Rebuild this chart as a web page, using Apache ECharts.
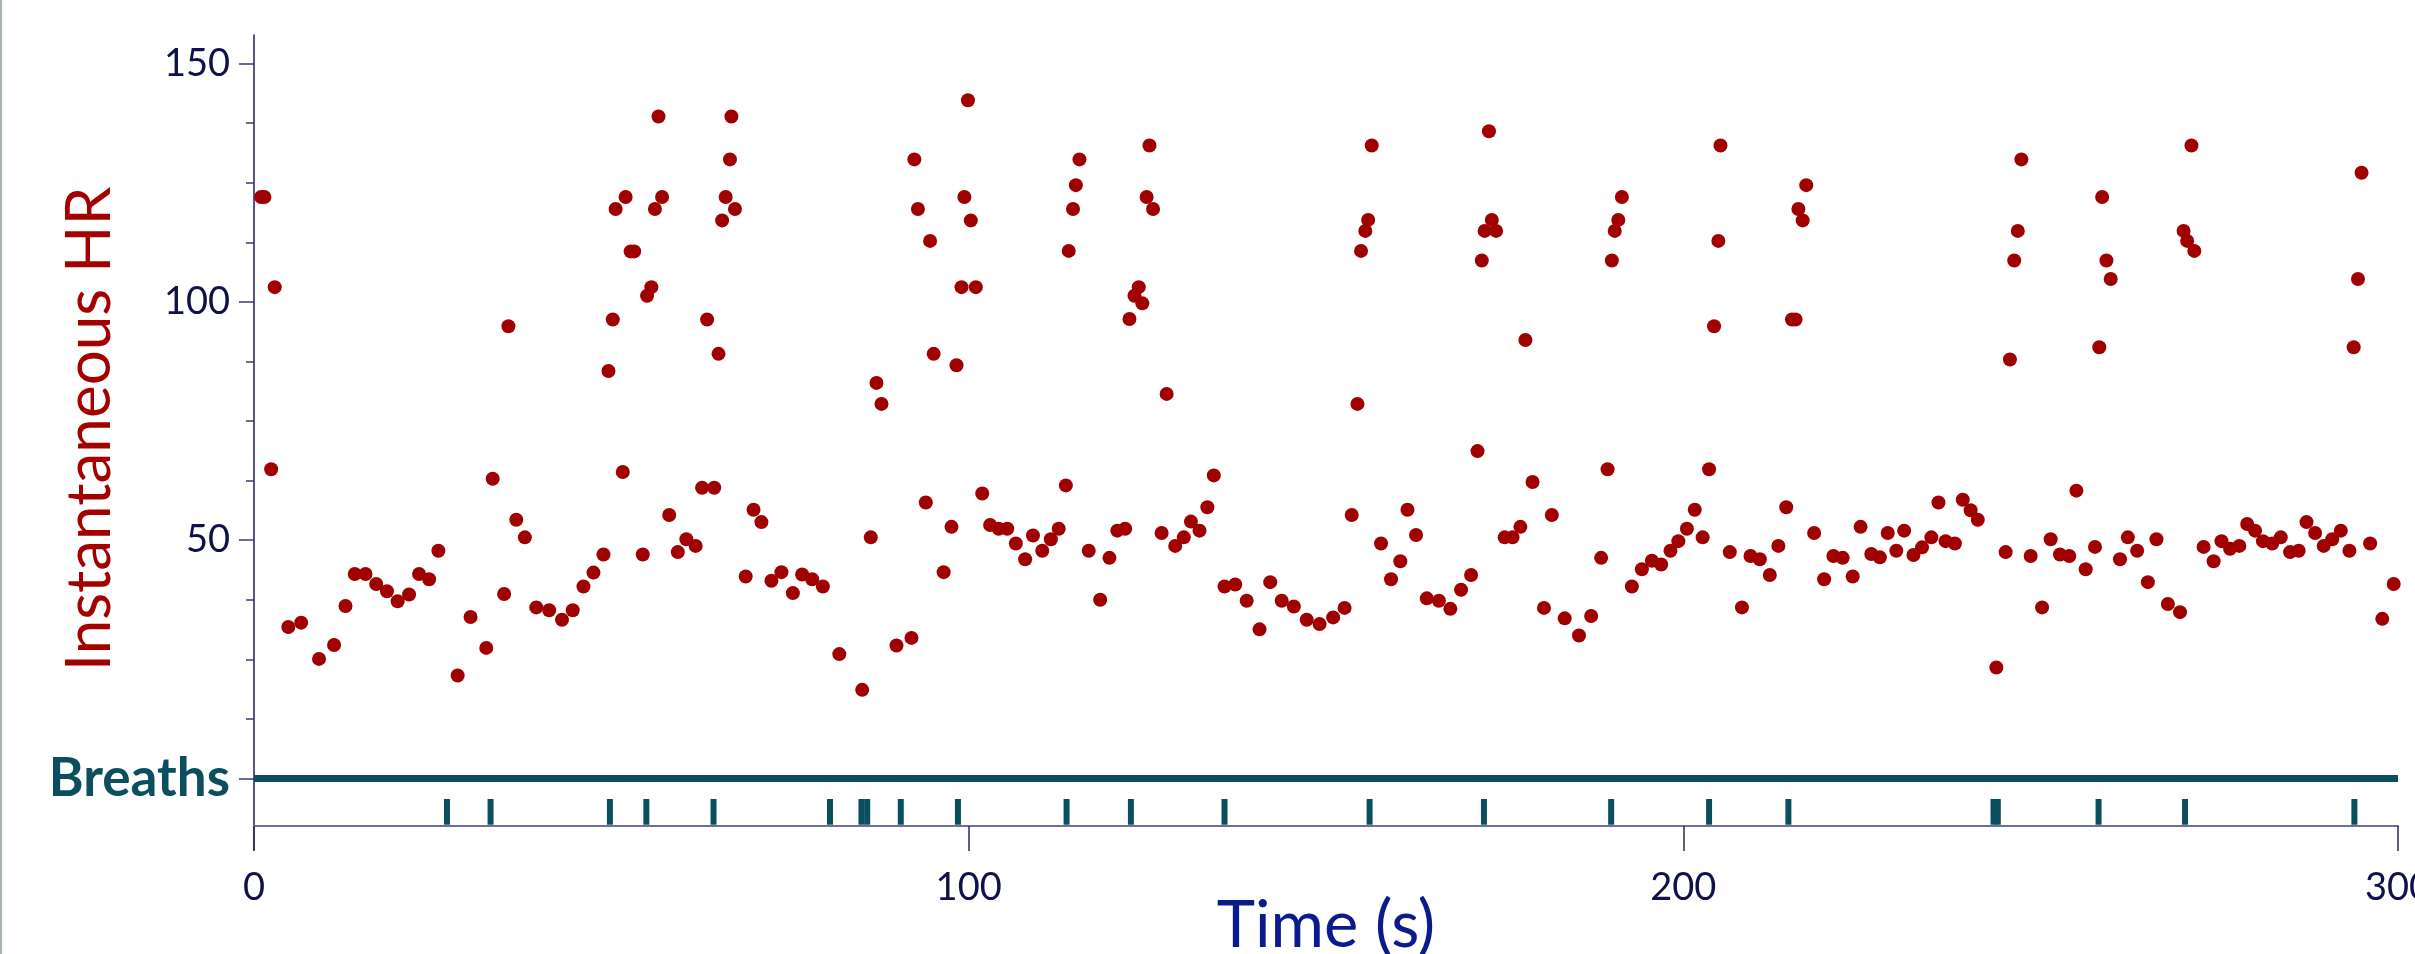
<!DOCTYPE html>
<html>
<head>
<meta charset="utf-8">
<title>Instantaneous HR and breaths</title>
<script src="https://cdn.jsdelivr.net/npm/echarts@6.0.0/dist/echarts.min.js"></script>
<style>
    html, body { margin: 0; padding: 0; background: #fff; }
    #chart { width: 2415px; height: 954px; }
    #edge { position: absolute; left: 0; top: 0; width: 2px; height: 954px; background: #a8b4b4; }
</style>
</head>
<body>
<div id="chart"></div>
<div id="edge"></div>
<script>
// instantaneous heart rate, [time (s), HR]
var hrPoints = [
    [1.0, 122.0], [1.45, 122.0], [2.4, 64.9], [2.9, 103.1], [4.8, 31.8], [6.6, 32.7], [9.1, 25.1], [11.2, 28.0],
    [12.8, 36.2], [14.1, 42.9], [15.6, 42.9], [17.1, 40.8], [18.6, 39.3], [20.1, 37.2], [21.7, 38.6], [23.1, 42.9],
    [24.5, 41.8], [25.8, 47.8], [28.5, 21.6], [30.3, 33.9], [32.5, 27.4], [33.4, 62.9], [35.0, 38.7], [35.6, 94.9],
    [36.7, 54.3], [37.9, 50.6], [39.5, 35.9], [41.3, 35.3], [43.1, 33.3], [44.6, 35.3], [46.1, 40.3], [47.5, 43.2],
    [48.9, 47.0], [49.6, 85.5], [50.2, 96.3], [50.6, 119.5], [51.6, 64.3], [52.0, 122.0], [52.7, 110.6], [53.2, 110.6],
    [54.4, 47.0], [55.0, 101.3], [55.6, 103.1], [56.1, 119.5], [56.6, 138.9], [57.1, 122.0], [58.1, 55.3], [59.3, 47.5],
    [60.5, 50.2], [61.8, 48.8], [62.7, 61.0], [63.4, 96.3], [64.4, 61.0], [65.0, 89.1], [65.5, 117.1], [66.0, 122.0],
    [66.6, 129.9], [66.8, 138.9], [67.3, 119.5], [68.8, 42.4], [69.9, 56.4], [71.0, 53.8], [72.4, 41.5], [73.8, 43.3],
    [75.4, 38.9], [76.7, 42.8], [78.1, 41.8], [79.6, 40.3], [81.9, 26.1], [85.1, 18.6], [86.3, 50.6], [87.1, 83.0],
    [87.8, 78.6], [89.9, 27.9], [92.0, 29.5], [92.4, 129.9], [92.9, 119.5], [94.0, 57.9], [94.6, 112.8], [95.1, 89.1],
    [96.5, 43.3], [97.6, 52.8], [98.3, 86.7], [99.0, 103.1], [99.4, 122.0], [99.9, 142.3], [100.3, 117.1], [101.0, 103.1],
    [101.9, 59.8], [103.0, 53.2], [104.2, 52.4], [105.4, 52.4], [106.6, 49.3], [107.9, 46.0], [109.0, 51.0], [110.3, 47.8],
    [111.5, 50.2], [112.6, 52.4], [113.6, 61.5], [114.0, 110.7], [114.6, 119.5], [115.0, 124.5], [115.5, 129.9], [116.8, 47.8],
    [118.4, 37.5], [119.7, 46.3], [120.8, 52.0], [121.9, 52.4], [122.5, 96.4], [123.2, 101.3], [123.8, 103.1], [124.3, 99.7],
    [124.9, 122.0], [125.3, 132.8], [125.8, 119.5], [127.0, 51.5], [127.7, 80.7], [128.9, 48.8], [130.1, 50.6], [131.1, 53.9],
    [132.3, 52.0], [133.4, 56.9], [134.3, 63.6], [135.8, 40.3], [137.3, 40.7], [138.9, 37.3], [140.7, 31.3], [142.2, 41.2],
    [143.8, 37.3], [145.5, 36.1], [147.3, 33.3], [149.1, 32.4], [151.0, 33.8], [152.6, 35.8], [153.6, 55.3], [154.4, 78.6],
    [154.9, 110.7], [155.5, 114.9], [155.9, 117.2], [156.4, 132.8], [157.7, 49.3], [159.1, 41.8], [160.4, 45.6], [161.4, 56.4],
    [162.6, 51.1], [164.1, 37.8], [165.8, 37.3], [167.4, 35.6], [168.9, 39.6], [170.3, 42.7], [171.2, 68.7], [171.8, 108.7],
    [172.2, 114.9], [172.8, 135.8], [173.2, 117.2], [173.8, 114.9], [175.0, 50.6], [176.1, 50.6], [177.2, 52.8], [177.9, 92.0],
    [178.9, 62.2], [180.5, 35.8], [181.6, 55.3], [183.4, 33.6], [185.4, 30.0], [187.1, 34.1], [188.5, 46.3], [189.4, 64.9],
    [190.0, 108.7], [190.4, 114.9], [190.9, 117.2], [191.4, 122.0], [192.8, 40.3], [194.2, 43.9], [195.6, 45.7], [196.9, 44.9],
    [198.2, 47.8], [199.3, 49.8], [200.5, 52.4], [201.6, 56.4], [202.7, 50.6], [203.6, 64.9], [204.3, 94.9], [204.9, 112.8],
    [205.2, 132.8], [206.5, 47.5], [208.2, 35.9], [209.4, 46.7], [210.7, 46.0], [212.1, 42.7], [213.3, 48.8], [214.4, 56.9],
    [215.2, 96.3], [215.7, 96.3], [216.1, 119.5], [216.7, 117.1], [217.2, 124.5], [218.3, 51.5], [219.7, 41.8], [221.0, 46.7],
    [222.3, 46.3], [223.7, 42.4], [224.8, 52.8], [226.3, 47.1], [227.5, 46.4], [228.6, 51.5], [229.8, 47.8], [230.9, 52.0],
    [232.2, 46.9], [233.4, 48.5], [234.7, 50.6], [235.7, 57.9], [236.7, 49.8], [238.0, 49.3], [239.1, 58.5], [240.2, 56.3],
    [241.2, 54.3], [243.8, 23.3], [245.1, 47.5], [245.7, 87.9], [246.3, 108.7], [246.8, 114.9], [247.3, 129.9], [248.6, 46.7],
    [250.2, 35.9], [251.4, 50.2], [252.7, 47.0], [254.0, 46.7], [255.0, 60.4], [256.3, 43.9], [257.6, 48.6], [258.2, 90.5],
    [258.6, 122.0], [259.2, 108.7], [259.8, 104.8], [261.1, 46.0], [262.2, 50.6], [263.5, 47.8], [265.0, 41.2], [266.2, 50.2],
    [267.8, 36.6], [269.5, 34.9], [270.0, 114.9], [270.5, 112.8], [271.1, 132.8], [271.5, 110.7], [272.8, 48.6], [274.2, 45.6],
    [275.3, 49.8], [276.5, 48.2], [277.8, 48.8], [278.9, 53.4], [280.0, 52.0], [281.1, 49.8], [282.4, 49.3], [283.6, 50.6],
    [284.9, 47.5], [286.1, 47.8], [287.2, 53.8], [288.4, 51.5], [289.6, 48.8], [290.8, 50.2], [292.0, 52.0], [293.2, 47.8],
    [293.8, 90.5], [294.4, 104.8], [294.9, 127.1], [296.1, 49.3], [297.8, 33.5], [299.4, 40.8]
];

// breath onsets (s)
var breathTimes = [27.0, 33.1, 49.8, 54.9, 64.3, 80.6, 85.0, 85.8, 90.5, 98.5, 113.7, 122.7,
    135.8, 156.1, 172.1, 189.9, 203.6, 214.7, 243.4, 244.0, 258.1, 270.2, 293.9];

// breath baseline and the span of each breath mark, in HR units
var breathLine = [[0, 0], [300, 0]];
var breathMarkTop = -4.3;
var breathMarkBottom = -9.7;

// axes
var xRange = [0, 300];
var xStep = 100;
var yRange = [-15, 156];
var yMajorTicks = [0, 50, 100, 150];
var yMinorTicks = [12.5, 25, 37.5, 62.5, 75, 87.5, 112.5, 125, 137.5];

var teal = '#0b4f5e';
var navy = '#10104a';

var chart = echarts.init(document.getElementById('chart'));
var option = {
    animation: false,
    backgroundColor: '#fff',
    textStyle: { fontFamily: 'Lato' },
    grid: {
        left: 254,
        right: 17,
        top: 35,
        bottom: 104,
        outerBoundsMode: 'none'
    },
    xAxis: {
        type: 'value',
        min: xRange[0],
        max: xRange[1],
        interval: xStep,
        offset: -24,
        name: 'Time (s)',
        nameLocation: 'middle',
        nameGap: 68,
        nameMoveOverlap: false,
        nameTextStyle: { fontSize: 65, color: '#0b1a8c', fontFamily: 'Lato' },
        axisLine: { show: true, onZero: false, lineStyle: { color: '#6f6f9c', width: 2 } },
        axisTick: { show: true, length: 25, lineStyle: { color: '#2a2a66', width: 1.5 } },
        axisLabel: { margin: 43, fontSize: 38, color: navy, fontFamily: 'Lato' },
        splitLine: { show: false }
    },
    yAxis: [
        {
            type: 'value',
            position: 'left',
            min: yRange[0],
            max: yRange[1],
            name: 'Instantaneous HR',
            nameLocation: 'middle',
            nameGap: 133,
            nameMoveOverlap: false,
            nameTextStyle: { fontSize: 62, color: '#a50000', fontFamily: 'Lato', padding: [0, 0, 0, 27] },
            axisLine: { show: true, onZero: false, lineStyle: { color: '#1e1e60', width: 1.5 } },
            axisTick: { show: true, customValues: yMajorTicks, length: 15, lineStyle: { color: '#3a3a70', width: 1.5 } },
            axisLabel: {
                customValues: yMajorTicks,
                margin: 24,
                fontSize: 38,
                color: navy,
                fontFamily: 'Lato',
                formatter: function (v) {
                    return v === 0 ? '{br|Breaths}' : String(v);
                },
                rich: {
                    br: { fontSize: 53, fontWeight: 'bold', color: teal, fontFamily: 'Lato' }
                }
            },
            splitLine: { show: false }
        },
        {
            // minor ticks only
            type: 'value',
            position: 'left',
            min: yRange[0],
            max: yRange[1],
            axisLine: { show: false, onZero: false },
            axisTick: { show: true, customValues: yMinorTicks, length: 8, lineStyle: { color: '#3a3a70', width: 1.5 } },
            axisLabel: { show: false },
            splitLine: { show: false }
        }
    ],
    series: [
        {
            name: 'Breaths',
            type: 'line',
            data: breathLine,
            showSymbol: false,
            symbol: 'none',
            lineStyle: { color: teal, width: 7, cap: 'butt' },
            z: 2
        },
        {
            name: 'Breath marks',
            type: 'custom',
            data: breathTimes.map(function (t) { return [t]; }),
            renderItem: function (params, api) {
                var top = api.coord([api.value(0), breathMarkTop]);
                var bottom = api.coord([api.value(0), breathMarkBottom]);
                return {
                    type: 'rect',
                    shape: { x: top[0] - 3, y: top[1], width: 6, height: bottom[1] - top[1] },
                    style: { fill: teal }
                };
            },
            z: 2
        },
        {
            name: 'Instantaneous HR',
            type: 'scatter',
            data: hrPoints,
            symbol: 'circle',
            symbolSize: 14,
            itemStyle: { color: '#a00000', opacity: 1 },
            z: 3
        }
    ]
};
chart.setOption(option);
window.addEventListener('resize', function () {
    chart.resize();
});
</script>
</body>
</html>
